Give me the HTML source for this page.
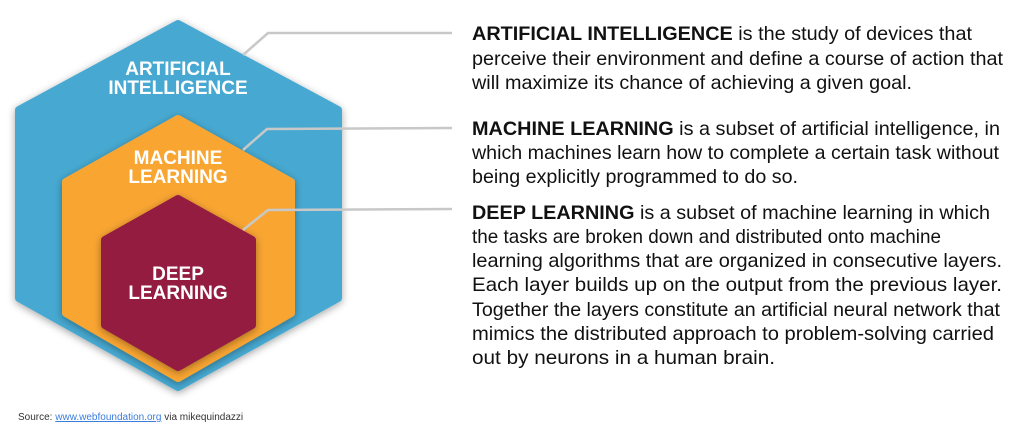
<!DOCTYPE html>
<html><head><meta charset="utf-8"><style>
html,body{margin:0;padding:0;background:#fff;}
svg{display:block;font-family:"Liberation Sans",Arial,sans-serif;}
</style></head><body>
<svg width="1024" height="429" viewBox="0 0 1024 429">
<defs>
<filter id="sh" x="-20%" y="-20%" width="140%" height="140%"><feDropShadow dx="0" dy="2" stdDeviation="4" flood-opacity="0.35"/></filter>
</defs>
<polygon points="178,24 338,110 338,298 178,387 19,298 19,110" fill="#46a9d1" stroke="#46a9d1" stroke-width="8" stroke-linejoin="round" filter="url(#sh)"/>
<polygon points="178,119 291,182 291,313 178,378 66,313 66,182" fill="#f9a531" stroke="#f9a531" stroke-width="8" stroke-linejoin="round" filter="url(#sh)"/>
<polygon points="178,199 252,240 252,325 178,367 105,325 105,240" fill="#931f41" stroke="#931f41" stroke-width="8" stroke-linejoin="round" filter="url(#sh)"/>
<g stroke="#c8c8c8" stroke-width="2.5" fill="none">
<polyline points="243,55 268,33 452,33"/>
<polyline points="243,150 267,129 452,128"/>
<polyline points="243,230 268,210 452,209"/>
</g>
<g fill="#fff" font-weight="bold" font-size="19" text-anchor="middle">
<text x="178" y="75">ARTIFICIAL</text>
<text x="178" y="94">INTELLIGENCE</text>
<text x="178" y="164">MACHINE</text>
<text x="178" y="183">LEARNING</text>
<text x="178" y="280">DEEP</text>
<text x="178" y="299">LEARNING</text>
</g>
<g fill="#111" font-size="19.5">
<text x="472" y="40" textLength="500" lengthAdjust="spacingAndGlyphs"><tspan font-weight="bold">ARTIFICIAL  INTELLIGENCE</tspan> is the study of devices that</text>
<text x="472" y="65" textLength="531" lengthAdjust="spacingAndGlyphs">perceive their environment and define a course of action that</text>
<text x="472" y="89" textLength="440" lengthAdjust="spacingAndGlyphs">will maximize its chance of achieving a given goal.</text>
<text x="472" y="135" textLength="528" lengthAdjust="spacingAndGlyphs"><tspan font-weight="bold">MACHINE LEARNING</tspan> is a subset of artificial intelligence, in</text>
<text x="472" y="159" textLength="527" lengthAdjust="spacingAndGlyphs">which machines learn how to complete a certain task without</text>
<text x="472" y="183" textLength="326" lengthAdjust="spacingAndGlyphs">being explicitly programmed to do so.</text>
<text x="472" y="219" textLength="518" lengthAdjust="spacingAndGlyphs"><tspan font-weight="bold">DEEP LEARNING</tspan> is a subset of machine learning in which</text>
<text x="472" y="243" textLength="469" lengthAdjust="spacingAndGlyphs">the tasks are broken down and distributed onto machine</text>
<text x="472" y="267" textLength="530" lengthAdjust="spacingAndGlyphs">learning algorithms that are organized in consecutive layers.</text>
<text x="472" y="291" textLength="530" lengthAdjust="spacingAndGlyphs">Each layer builds up on the output from the previous layer.</text>
<text x="472" y="316" textLength="528" lengthAdjust="spacingAndGlyphs">Together the layers constitute an artificial neural network that</text>
<text x="472" y="340" textLength="522" lengthAdjust="spacingAndGlyphs">mimics the distributed approach to problem-solving carried</text>
<text x="472" y="364" textLength="303" lengthAdjust="spacingAndGlyphs">out by neurons in a human brain.</text>
</g>
<text x="18" y="420" font-size="10" fill="#333">Source: <tspan fill="#3b7ddd" text-decoration="underline">www.webfoundation.org</tspan> via mikequindazzi</text>
</svg>
</body></html>
